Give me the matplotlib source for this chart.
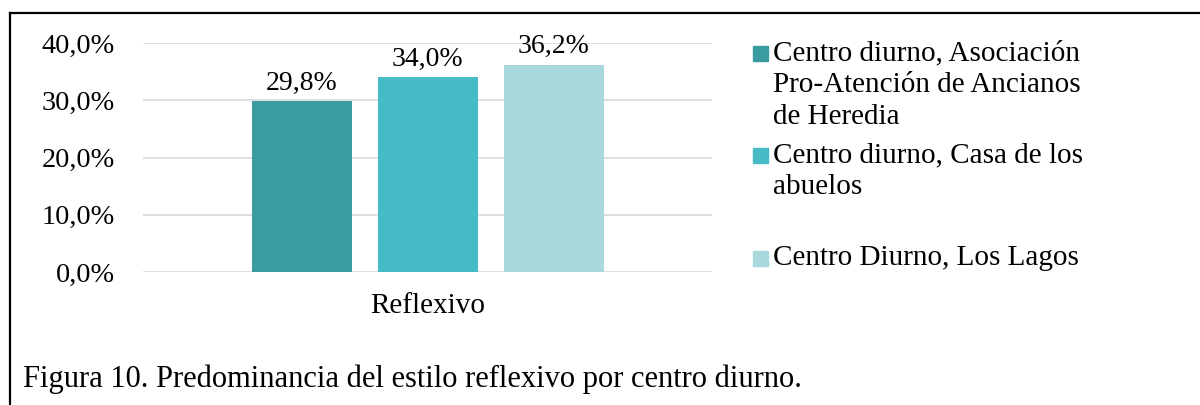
import matplotlib
matplotlib.use("Agg")
import matplotlib.pyplot as plt
from matplotlib.patches import Rectangle
from matplotlib.lines import Line2D

plt.rcParams['font.family'] = ['Liberation Serif', 'DejaVu Serif']

category = "Reflexivo"
series = ["Centro diurno, Asociación\nPro-Atención de Ancianos\nde Heredia",
          "Centro diurno, Casa de los\nabuelos",
          "Centro Diurno, Los Lagos"]
values = [29.8, 34.0, 36.2]
colors = ["#3A9CA1", "#47BBC5", "#A9D8DD"]
yticks = [0, 10, 20, 30, 40]
caption = "Figura 10. Predominancia del estilo reflexivo por centro diurno."

fs = 21
W, H = 1200, 405
fig = plt.figure(figsize=(12, 4.05), dpi=100)
ax = fig.add_axes([143 / W, 1 - 272 / H, (712 - 143) / W, (272 - 43) / H])

step = 126 / 569
width = 100 / 569
for i, (v, c) in enumerate(zip(values, colors)):
    x = (i - 1) * step
    ax.bar(x, v, width=width, color=c, zorder=3)
    ax.annotate(f"{v:.1f}%".replace(".", ","), (x, v), xytext=(0, 4),
                textcoords="offset points", ha="center", va="bottom", fontsize=20)

ax.set_xlim(-0.5, 0.5)
ax.set_ylim(0, 40)
ax.set_yticks(yticks)
ax.set_yticklabels([f"{t:.1f}%".replace(".", ",") for t in yticks], fontsize=20.3)
ax.set_xticks([0])
ax.set_xticklabels([category], fontsize=fs)
ax.tick_params(axis="both", length=0)
ax.tick_params(axis="y", pad=20)
ax.tick_params(axis="x", pad=15)
ax.grid(axis="y", color="#D9D9D9", linewidth=1.2, zorder=0)
for s in ax.spines.values():
    s.set_visible(False)

# legend, drawn by hand so the swatch sits on the first line
tops = [40, 142, 245]
for lab, c, t in zip(series, colors, tops):
    fig.add_artist(Rectangle((753 / W, 1 - (t + 21) / H), 15 / W, 15 / H,
                             transform=fig.transFigure, color=c))
    fig.text(773 / W, 1 - t / H, lab, fontsize=fs, va="top", ha="left",
             linespacing=1.29)

fig.text(23 / W, 1 - 387 / H, caption, fontsize=22, va="baseline", ha="left")

fig.add_artist(Line2D([10 / W, 1], [1 - 13 / H] * 2, color="black", lw=1.6,
                      transform=fig.transFigure))
fig.add_artist(Line2D([10 / W] * 2, [0, 1 - 13 / H], color="black", lw=1.6,
                      transform=fig.transFigure))

fig.savefig("out.png", dpi=100)
